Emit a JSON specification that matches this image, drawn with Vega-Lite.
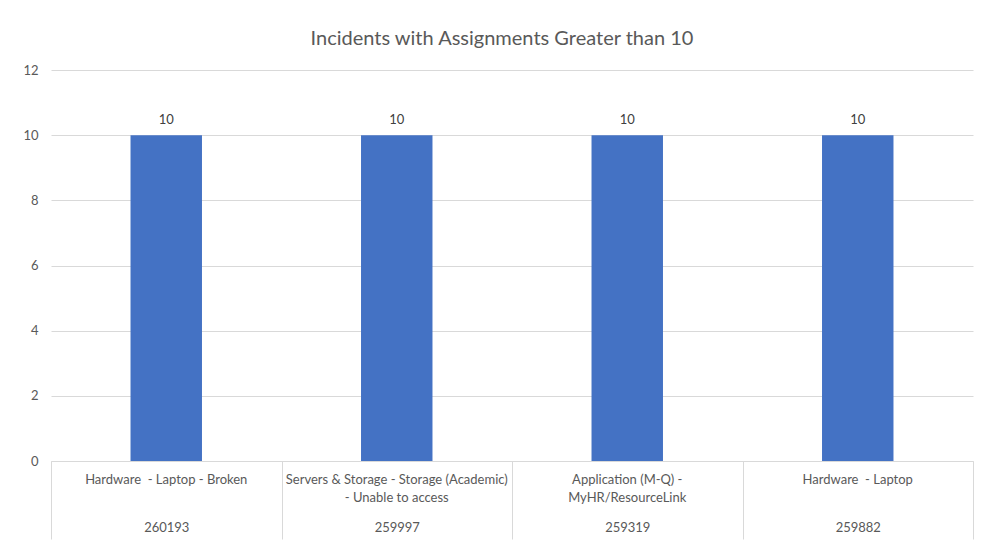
{
  "$schema": "https://vega.github.io/schema/vega-lite/v6.json",
  "width": 922,
  "height": 391,
  "autosize": "none",
  "padding": {"left": 51, "top": 70, "right": 9, "bottom": 87},
  "background": "white",
  "title": {
    "text": "Incidents with Assignments Greater than 10",
    "font": "Lato",
    "fontSize": 20,
    "fontWeight": "normal",
    "color": "#595959",
    "anchor": "middle",
    "frame": "group",
    "offset": 15,
    "dx": -10
  },
  "data": {
    "values": [
      {"category": "Hardware \u00a0- Laptop - Broken", "incident": "260193", "assignments": 10},
      {"category": "Servers & Storage - Storage (Academic)\n- Unable to access", "incident": "259997", "assignments": 10},
      {"category": "Application (M-Q) -\nMyHR/ResourceLink", "incident": "259319", "assignments": 10},
      {"category": "Hardware \u00a0- Laptop", "incident": "259882", "assignments": 10}
    ]
  },
  "layer": [
    {
      "mark": {"type": "bar", "color": "#4472C4", "width": {"band": 0.31}},
      "encoding": {
        "x": {
          "field": "category",
          "type": "nominal",
          "sort": null,
          "scale": {"paddingInner": 0, "paddingOuter": 0},
          "title": null,
          "axis": {
            "orient": "bottom",
            "labelExpr": "split(datum.label, '\\n')",
            "labelAngle": 0,
            "ticks": false,
            "domain": true,
            "domainColor": "#d9d9d9",
            "labelPadding": 12,
            "labelFont": "Lato",
            "labelFontSize": 13,
            "labelColor": "#595959",
            "labelLineHeight": 18,
            "labelLimit": 0,
            "grid": false
          }
        },
        "y": {
          "field": "assignments",
          "type": "quantitative",
          "scale": {"domain": [0, 12]},
          "title": null,
          "axis": {
            "values": [0, 2, 4, 6, 8, 10, 12],
            "grid": true,
            "gridColor": "#d9d9d9",
            "domain": false,
            "ticks": false,
            "labelPadding": 13,
            "labelFont": "Lato",
            "labelFontSize": 13,
            "labelColor": "#595959"
          }
        }
      }
    },
    {
      "mark": {"type": "text", "dy": -15, "font": "Lato", "fontSize": 13, "color": "#404040"},
      "encoding": {
        "x": {
          "field": "incident",
          "type": "nominal",
          "sort": null,
          "scale": {"paddingInner": 0, "paddingOuter": 0},
          "title": null,
          "axis": {
            "orient": "bottom",
            "labelAngle": 0,
            "ticks": true,
            "tickBand": "extent",
            "tickSize": 78,
            "tickColor": "#d9d9d9",
            "domain": false,
            "grid": false,
            "labelPadding": -18,
            "labelFont": "Lato",
            "labelFontSize": 13,
            "labelColor": "#595959"
          }
        },
        "y": {"field": "assignments", "type": "quantitative"},
        "text": {"field": "assignments", "type": "quantitative"}
      }
    }
  ],
  "resolve": {"scale": {"x": "independent"}, "axis": {"x": "independent"}},
  "config": {"view": {"stroke": null}}
}
